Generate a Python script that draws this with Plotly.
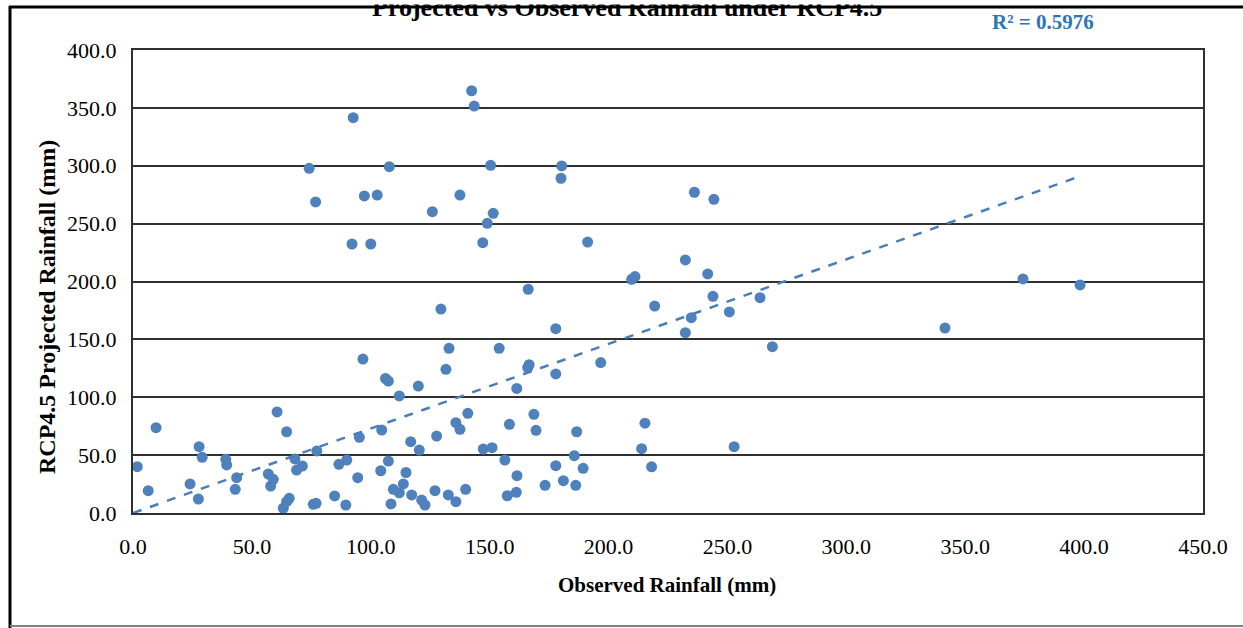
import numpy as np
import plotly.graph_objects as go

# Observed rainfall (mm) - x values
observed = [1.8, 6.4, 9.7, 24.0, 27.8, 27.5, 29.1, 39.0, 39.4, 43.0, 43.6, 56.9, 57.9, 59.0, 60.6,
            63.2, 64.6, 65.7, 64.6, 68.1, 68.8, 71.2, 74.1, 75.8, 77.0, 76.8, 77.3, 84.8, 86.6, 89.9,
            89.5, 92.6, 92.1, 94.5, 95.2, 96.7, 97.3, 100.0, 102.7, 104.2, 104.6, 106.2, 107.4, 107.4,
            107.8, 108.5, 109.5, 112.0, 112.0, 113.7, 114.8, 116.8, 117.2, 120.0, 120.4, 121.4, 122.8,
            125.9, 127.0, 127.7, 129.5, 131.6, 132.6, 132.9, 135.8, 135.8, 137.5, 137.5, 139.9, 140.8,
            142.4, 143.5, 147.1, 147.3, 149.0, 150.4, 151.0, 151.5, 154.0, 156.4, 157.4, 158.3, 161.2,
            161.5, 161.4, 166.2, 166.0, 166.6, 168.6, 169.5, 173.3, 177.8, 177.8, 177.8, 180.3, 180.0,
            181.0, 186.6, 185.6, 186.2, 189.3, 191.2, 196.7, 209.7, 211.1, 213.9, 215.3, 218.1, 219.4,
            232.3, 232.3, 234.8, 236.1, 241.7, 243.9, 244.3, 250.8, 252.8, 263.7, 268.9, 341.5, 374.3,
            398.3]

# RCP4.5 projected rainfall (mm) - y values
projected = [40.0, 19.3, 73.7, 25.1, 57.3, 12.1, 48.1, 46.4, 41.5, 20.5, 30.5, 33.7, 23.3, 29.1, 87.3,
             4.1, 9.8, 12.7, 70.2, 46.7, 37.1, 40.6, 297.8, 7.5, 8.4, 268.7, 53.6, 14.7, 42.1, 45.8,
             6.9, 341.5, 232.4, 30.5, 65.4, 133.0, 273.9, 232.4, 274.7, 36.5, 71.7, 116.2, 114.0, 44.9,
             299.2, 7.8, 20.5, 101.1, 17.5, 25.1, 35.0, 61.6, 15.6, 109.7, 54.4, 11.2, 6.9,
             260.3, 19.3, 66.5, 176.2, 124.1, 15.6, 142.3, 9.8, 78.0, 72.3, 274.7, 20.5, 86.1,
             364.8, 351.6, 233.5, 55.3, 250.3, 300.4, 56.4, 258.9, 142.3, 45.8, 14.9, 76.6, 17.9,
             32.2, 107.6, 193.3, 125.6, 128.1, 85.3, 71.4, 23.9, 159.2, 120.1, 40.9, 299.8, 289.2,
             27.9, 70.2, 49.5, 23.9, 38.6, 234.1, 130.0, 201.9, 204.3, 55.6, 77.6, 39.9, 178.8,
             218.6, 155.8, 168.7, 277.1, 206.5, 187.2, 271.0, 173.7, 57.3, 186.0, 143.7, 159.8, 202.2,
             197.0]

x_ticks = [0, 50, 100, 150, 200, 250, 300, 350, 400, 450]
y_ticks = [0, 50, 100, 150, 200, 250, 300, 350, 400]
r2_label = "R² = 0.5976"
title_text = "Projected vs Observed Rainfall under RCP4.5"
x_title = "Observed Rainfall (mm)"
y_title = "RCP4.5 Projected Rainfall (mm)"

xa = np.array(observed)
ya = np.array(projected)
# linear trendline through the origin
slope = float((xa * ya).sum() / (xa * xa).sum())
tx = np.array([0.0, xa.max()])
ty = slope * tx

SERIF = "Liberation Serif, Times New Roman, serif"
BLUE = "#4F81BD"

fig = go.Figure()
fig.add_trace(go.Scatter(x=observed, y=projected, mode="markers",
                         marker=dict(color=BLUE, size=11, line=dict(width=0)),
                         showlegend=False))
fig.add_trace(go.Scatter(x=tx, y=ty, mode="lines",
                         line=dict(color="#4A7EBB", width=2.5, dash="dash"),
                         showlegend=False))

W, H = 1243, 628
L, R, T, B = 133, 40, 50, 115
pw, ph = W - L - R, H - T - B


def px(xpix):
    return (xpix - L) / pw


def py(ypix):
    return (H - B - ypix) / ph


fig.update_layout(
    width=W, height=H, autosize=False,
    margin=dict(l=L, r=R, t=T, b=B, pad=0),
    paper_bgcolor="white", plot_bgcolor="white",
    font=dict(family=SERIF, color="black"),
    xaxis=dict(range=[0, 450], tickvals=x_ticks, tickformat=".1f", showgrid=False,
               zeroline=False, showline=True, linecolor="#303030", linewidth=2, mirror=True,
               ticks="", ticklabelstandoff=13, tickfont=dict(size=22, family=SERIF)),
    yaxis=dict(range=[0, 400], tickvals=y_ticks, tickformat=".1f", showgrid=True,
               gridcolor="#303030", gridwidth=2, zeroline=False, showline=True,
               linecolor="#303030", linewidth=2, mirror=True, ticks="",
               ticklabelstandoff=10, tickfont=dict(size=22, family=SERIF)),
    annotations=[
        dict(text="<b>" + title_text + "</b>", x=px(627), y=py(24), xref="paper", yref="paper",
             xanchor="center", yanchor="bottom", showarrow=False,
             font=dict(size=26, family=SERIF, color="black")),
        dict(text=" ", x=px(627), y=py(5), xref="paper", yref="paper", xanchor="center",
             yanchor="bottom", showarrow=False, width=560, height=20, bgcolor="white",
             borderpad=0, font=dict(size=10)),
        dict(text="<b>" + r2_label + "</b>", x=px(1043), y=py(22), xref="paper", yref="paper",
             xanchor="center", yanchor="middle", showarrow=False,
             font=dict(size=21, family=SERIF, color="#2E75B6")),
        dict(text="<b>" + x_title + "</b>", x=px(667), y=py(585), xref="paper", yref="paper",
             xanchor="center", yanchor="middle", showarrow=False,
             font=dict(size=21, family=SERIF, color="black")),
        dict(text="<b>" + y_title + "</b>", x=px(47), y=py(307), xref="paper", yref="paper",
             xanchor="center", yanchor="middle", showarrow=False, textangle=-90,
             font=dict(size=24, family=SERIF, color="black")),
    ],
    shapes=[
        dict(type="line", xref="paper", yref="paper", x0=px(10), x1=px(10), y0=py(6), y1=py(640),
             line=dict(color="black", width=3)),
        dict(type="line", xref="paper", yref="paper", x0=px(9), x1=px(1260), y0=py(7), y1=py(7),
             line=dict(color="black", width=3)),
        dict(type="line", xref="paper", yref="paper", x0=px(10), x1=px(1260), y0=py(626), y1=py(626),
             line=dict(color="#808080", width=2)),
    ],
)

fig.write_html("out.html")
